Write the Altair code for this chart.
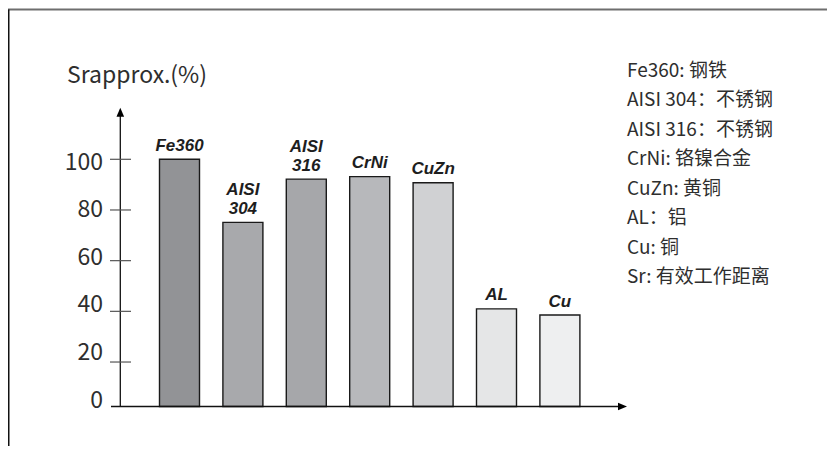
import altair as alt
import pandas as pd

# ---- data ----
materials = ["Fe360", "AISI 304", "AISI 316", "CrNi", "CuZn", "AL", "Cu"]
label_top = ["", "AISI", "AISI", "", "", "", ""]
label_bottom = ["Fe360", "304", "316", "CrNi", "CuZn", "AL", "Cu"]
values = [100, 74.5, 92, 93, 90.5, 39.5, 37]
bar_colors = ["#929396", "#a8a9ac", "#a6a7aa", "#b7b8bb", "#d0d1d3", "#e5e6e7", "#eeeff0"]

tick_values = [20, 40, 60, 80, 100]
tick_labels = [0, 20, 40, 60, 80, 100]
y_title = "Srapprox.(%)"
legend_lines = [
    "Fe360: 钢铁",
    "AISI 304：不锈钢",
    "AISI 316：不锈钢",
    "CrNi: 铬镍合金",
    "CuZn: 黄铜",
    "AL：铝",
    "Cu: 铜",
    "Sr: 有效工作距离",
]

W, H = 819, 438
CJK = "Noto Sans CJK SC"
TXT = "#2e2e2e"

bars_df = pd.DataFrame({"material": materials, "top": label_top, "bottom": label_bottom, "value": values})
ticks_df = pd.DataFrame({"v": tick_values})
labels_df = pd.DataFrame({"v": tick_labels, "t": [str(v) for v in tick_labels]})
one = pd.DataFrame({"a": [0]})

xscale = alt.Scale(domain=materials, range=[139.8, 583.6], paddingInner=0.369, paddingOuter=0.1845)
barscale = alt.Scale(domain=[0, 100], range=[398.5, 151.3])
tickscale = alt.Scale(domain=[0, 100], range=[404.7, 151.3])
labelscale = alt.Scale(domain=[0, 100], range=[392.5, 154.5])

X = alt.X("material:N", sort=materials, scale=xscale, axis=None)
YB = alt.Y("value:Q", scale=barscale, axis=None)

bars = alt.Chart(bars_df).mark_bar(stroke="#1a1a1a", strokeWidth=1.4).encode(
    x=X,
    y=YB,
    color=alt.Color("material:N", scale=alt.Scale(domain=materials, range=bar_colors), legend=None),
)

text_style = dict(font="Liberation Sans", fontSize=17, fontWeight="bold", fontStyle="italic",
                  baseline="alphabetic", align="center", color="#1e1e1e")
bar_text_bottom = alt.Chart(bars_df).mark_text(dy=-8.5, **text_style).encode(
    x=X, y=YB, text="bottom:N"
)
bar_text_top = alt.Chart(bars_df).mark_text(dy=-27.5, **text_style).encode(
    x=X, y=YB, text="top:N"
)

frame_top = alt.Chart(one).mark_rule(color="#6e6e6e", strokeWidth=2).encode(
    x=alt.value(0), x2=alt.value(W), y=alt.value(1.5)
)
frame_left = alt.Chart(one).mark_rule(color="#111111", strokeWidth=1.5).encode(
    x=alt.value(0.75), y=alt.value(1.5), y2=alt.value(H + 10)
)

x_axis = alt.Chart(one).mark_rule(color="#111111", strokeWidth=1.3).encode(
    x=alt.value(103), x2=alt.value(612), y=alt.value(398.5)
)
y_axis = alt.Chart(one).mark_rule(color="#111111", strokeWidth=1.3).encode(
    x=alt.value(112.3), y=alt.value(398.5), y2=alt.value(106)
)
arrow_right = alt.Chart(one).mark_point(
    shape="M-1,-0.85L1,0L-1,0.85Z", filled=True, color="#000000", size=81, opacity=1
).encode(x=alt.value(614.5), y=alt.value(398.5))
arrow_up = alt.Chart(one).mark_point(
    shape="M-0.85,1L0,-1L0.85,1Z", filled=True, color="#000000", size=81, opacity=1
).encode(x=alt.value(112.3), y=alt.value(104.2))

ticks = alt.Chart(ticks_df).mark_rule(color="#555555", strokeWidth=1.2).encode(
    y=alt.Y("v:Q", scale=tickscale, axis=None),
    x=alt.value(102), x2=alt.value(123),
)

ylabels = alt.Chart(labels_df).mark_text(
    font=CJK, fontSize=23, align="right", baseline="middle", color=TXT
).encode(
    y=alt.Y("v:Q", scale=labelscale, axis=None),
    x=alt.value(95),
    text="t:N",
)

title = alt.Chart(one).mark_text(
    font=CJK, fontSize=23, align="left", baseline="alphabetic", color=TXT, text=y_title
).encode(x=alt.value(59), y=alt.value(75))

legend = alt.Chart(one).mark_text(
    font=CJK, fontSize=19, align="left", baseline="alphabetic", color=TXT,
    text="\n".join(legend_lines), lineBreak="\n", lineHeight=29.5,
).encode(x=alt.value(619), y=alt.value(68.7))

chart = alt.layer(
    frame_top, frame_left, bars, bar_text_bottom, bar_text_top, x_axis, y_axis,
    arrow_right, arrow_up, ticks, ylabels, title, legend,
).resolve_scale(y="independent").properties(
    width=W, height=H, padding=0, autosize="none"
).configure_view(stroke=None)

chart.save("out.html", embed_options={"renderer": "svg", "actions": False})
